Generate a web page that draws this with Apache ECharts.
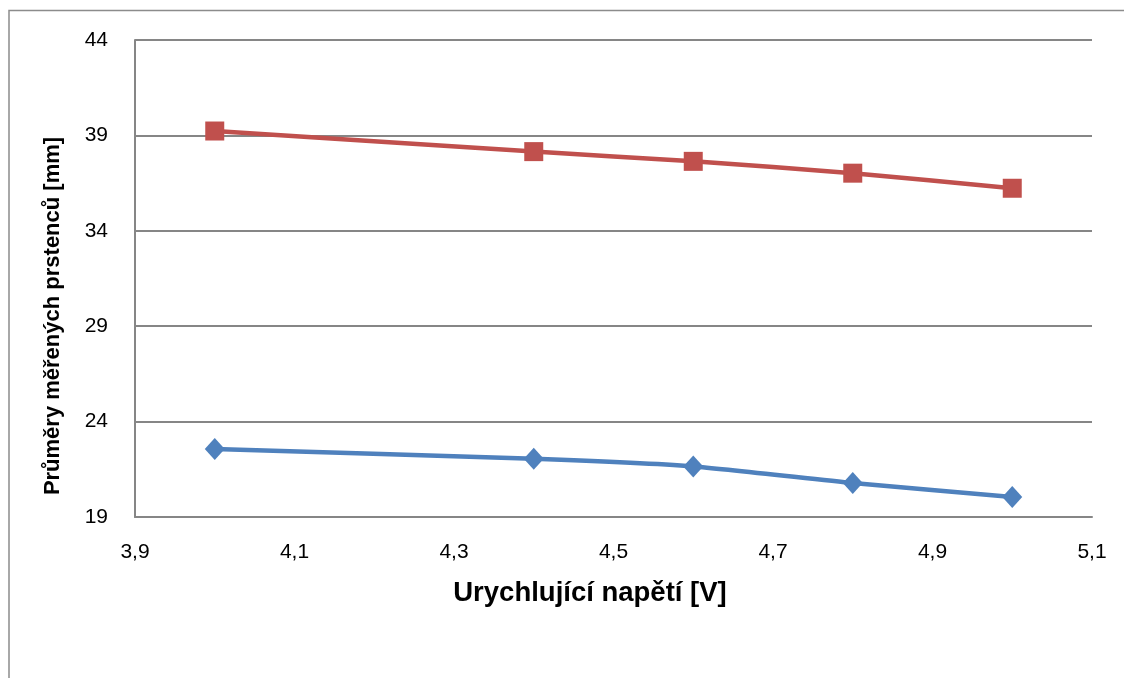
<!DOCTYPE html>
<html><head><meta charset="utf-8">
<script src="https://cdn.jsdelivr.net/npm/echarts@6/dist/echarts.min.js"></script>
<style>html,body{margin:0;padding:0;background:#fff}#c{width:1124px;height:678px}</style>
</head><body><div id="c"></div>
<script>
const voltages = [4.0, 4.4, 4.6, 4.8, 5.0];
const ringOuter = [39.23, 38.15, 37.64, 37.02, 36.23];
const ringInner = [22.56, 22.05, 21.65, 20.78, 20.05];
const xTitle = 'Urychlující napětí [V]';
const yTitle = 'Průměry měřených prstenců [mm]';
const FONT = '"Liberation Sans", Arial, sans-serif';
const fmt = v => (Math.round(v*10)/10).toFixed(1).replace('.', ',');

const chart = echarts.init(document.getElementById('c'), null, {renderer:'canvas'});
chart.setOption({
  animation:false,
  backgroundColor:'#fff',
  grid:{left:135, top:40, right:32, bottom:161, containLabel:false},
  xAxis:{type:'value', min:3.9, max:5.1, interval:0.2,
    axisLine:{show:true, lineStyle:{color:'#868686', width:2}},
    axisTick:{show:false},
    splitLine:{show:false},
    axisLabel:{formatter:fmt, color:'#000', fontFamily:FONT, fontSize:21, margin:25}
  },
  yAxis:{type:'value', min:19, max:44, interval:5,
    axisLine:{show:true, lineStyle:{color:'#868686', width:2}},
    axisTick:{show:false},
    splitLine:{show:true, lineStyle:{color:'#868686', width:2}},
    axisLabel:{color:'#000', fontFamily:FONT, fontSize:21, margin:27}
  },
  graphic:[
    {type:'polyline', silent:true, shape:{points:[[9,700],[9,10.5],[1130,10.5]]}, style:{stroke:'#8c8c8c', lineWidth:1.5, fill:null}},
    {type:'text', x:590, y:579, style:{text:xTitle, font:'bold 27.5px '+FONT, fill:'#000', textAlign:'center', textVerticalAlign:'top'}},
    {type:'text', rotation:Math.PI/2, x:42, y:316, style:{text:yTitle, font:'bold 22px '+FONT, fill:'#000', textAlign:'center', textVerticalAlign:'top'}}
  ],
  series:[
    {type:'line', data:voltages.map((v,i)=>[v, ringOuter[i]]), symbol:'rect', symbolSize:19, smooth:0.2,
      itemStyle:{color:'#C0504D'}, lineStyle:{color:'#C0504D', width:4.5}},
    {type:'line', data:voltages.map((v,i)=>[v, ringInner[i]]), symbol:'diamond', symbolSize:[20,22], smooth:0.2,
      itemStyle:{color:'#4F81BD'}, lineStyle:{color:'#4F81BD', width:4.5}}
  ]
});
</script></body></html>
